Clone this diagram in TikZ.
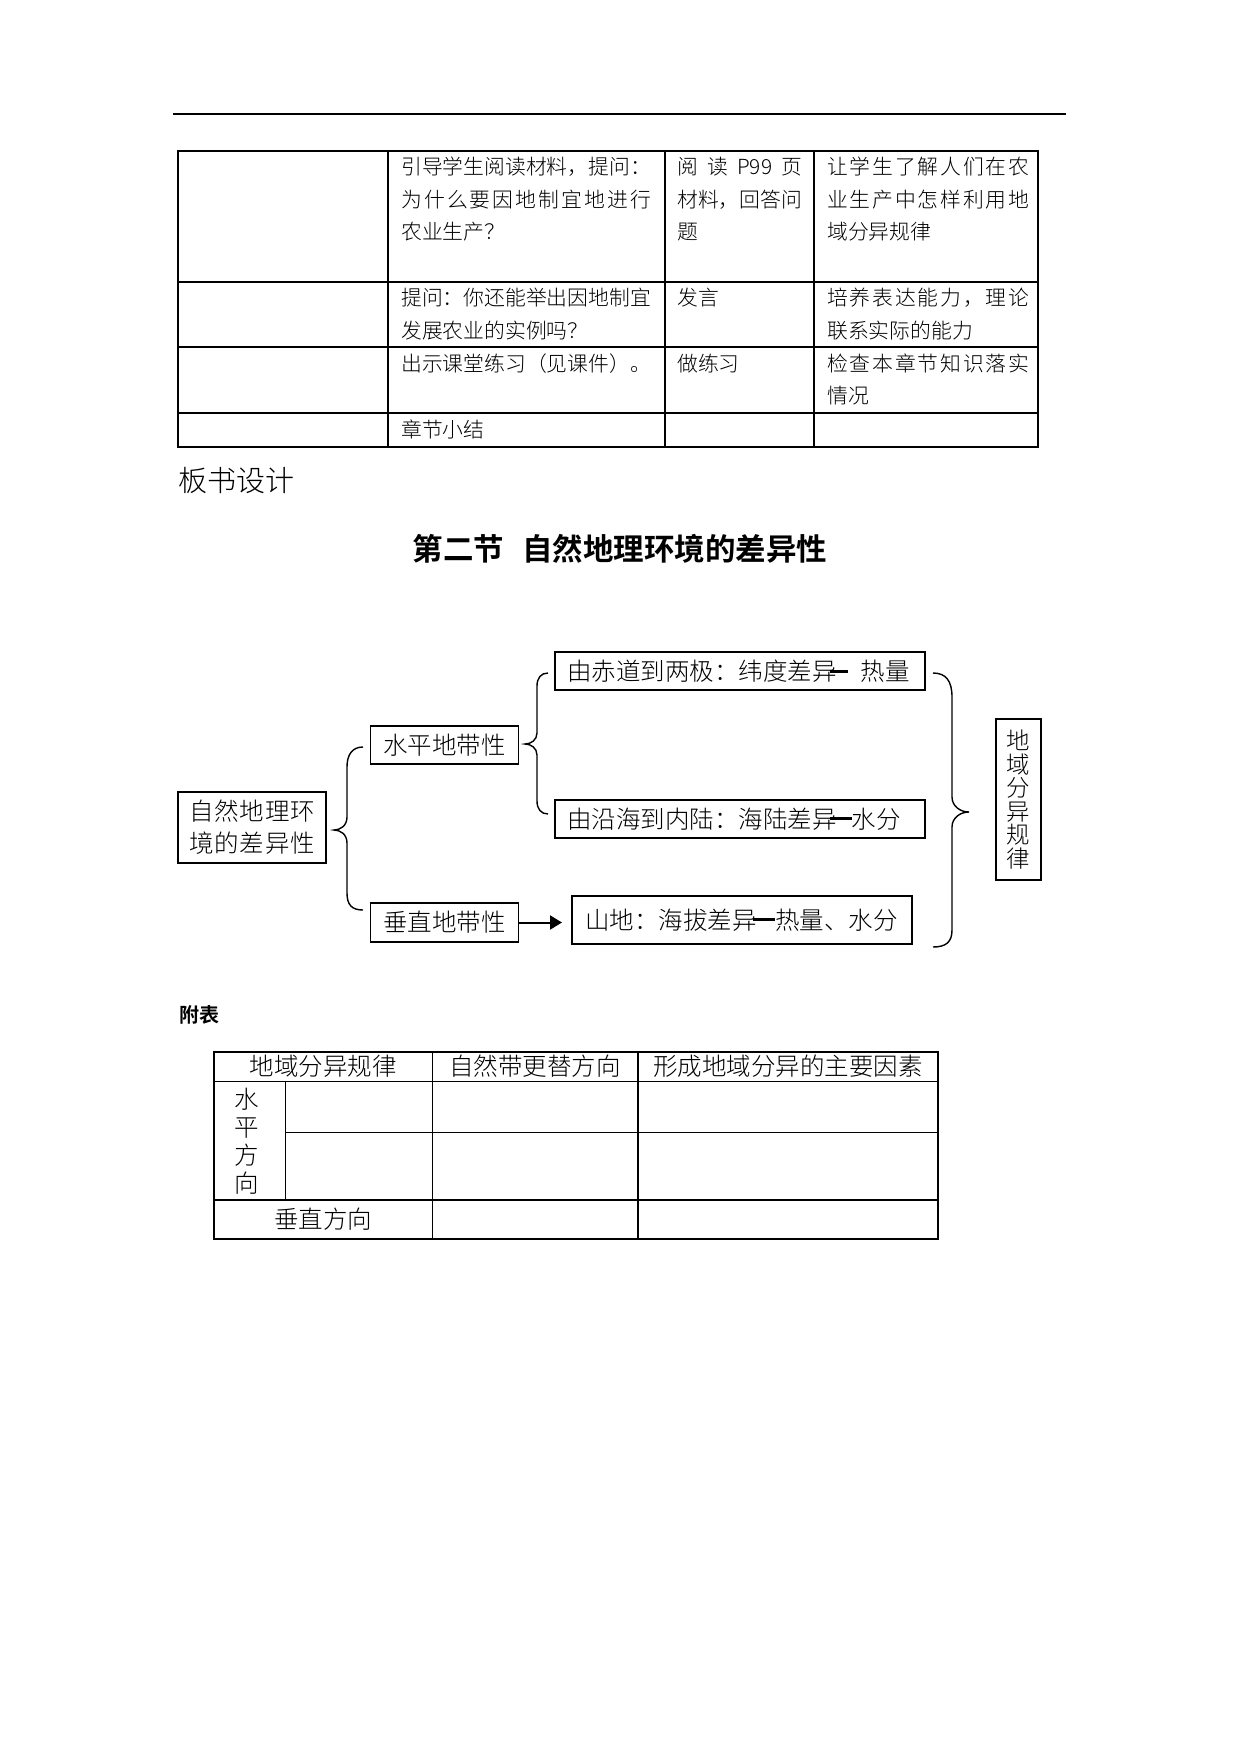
\documentclass[tikz,border=0pt]{standalone}
\usepackage{fontspec}
\setmainfont{Noto Sans CJK SC}[UprightFont={* Light}, BoldFont={* Bold}]
\usetikzlibrary{arrows.meta}
\makeatletter
\def\spr@first#1{#1\spr@d}
\def\spr@d#1{\ifx#1\@nil\else\hfil#1\expandafter\spr@d\fi}
\newcommand\spreadtxt[2]{\makebox[#1][s]{\spr@first#2\@nil}}
\makeatother
\newcommand\fsz[1]{\fontsize{#1}{#1}\selectfont}
\tikzset{
  cell/.style={anchor=west, inner sep=0pt, font={\fsz{20.8}}},
  dbox/.style={draw, line width=1.8pt, inner sep=0pt, font={\fsz{24.5}}},
  brc/.style={line width=1.4pt},
  tline/.style={line width=1.3pt},
  plain/.style={inner sep=0pt},
}
\begin{document}
\begin{tikzpicture}[x=1pt,y=-1pt]
\fill[white] (0,0) rectangle (1241,1754);
\useasboundingbox (0,0) rectangle (1241,1754);

% header rule
\draw[line width=1.3pt] (173,114) -- (1066,114);

% ---------- table 1 ----------
\draw[tline] (178,151) rectangle (1038,447);
\draw[tline] (388,151) -- (388,447);
\draw[tline] (665,151) -- (665,447);
\draw[tline] (814,151) -- (814,447);
\draw[tline] (178,282) -- (1038,282);
\draw[tline] (178,347) -- (1038,347);
\draw[tline] (178,413) -- (1038,413);

\node[cell] (r1a1) at (401,167) {引导学生阅读材料，提问：};
\node[cell] (r1a2) at (401,199.5) {\spreadtxt{250pt}{为什么要因地制宜地进行}};
\node[cell] (r1a3) at (401,232) {农业生产？};
\node[cell] (r1b1) at (677,167) {\makebox[125pt][s]{阅\hfil 读\hfil P99\hfil 页}};
\node[cell] (r1b2) at (677,199.5) {材料，回答问};
\node[cell] (r1b3) at (677,232) {题};
\node[cell] (r1c1) at (827,167) {\spreadtxt{202pt}{让学生了解人们在农}};
\node[cell] (r1c2) at (827,199.5) {\spreadtxt{202pt}{业生产中怎样利用地}};
\node[cell] (r1c3) at (827,232) {域分异规律};

\node[cell] (r2a1) at (401,298) {提问：你还能举出因地制宜};
\node[cell] (r2a2) at (401,330.5) {发展农业的实例吗？};
\node[cell] (r2b1) at (677,298) {发言};
\node[cell] (r2c1) at (827,298) {\spreadtxt{202pt}{培养表达能力，理论}};
\node[cell] (r2c2) at (827,330.5) {联系实际的能力};

\node[cell] (r3a1) at (401,363.5) {出示课堂练习（见课件）。};
\node[cell] (r3b1) at (677,363.5) {做练习};
\node[cell] (r3c1) at (827,363.5) {\spreadtxt{202pt}{检查本章节知识落实}};
\node[cell] (r3c2) at (827,396) {情况};

\node[cell] (r4a1) at (401,429.5) {章节小结};

% ---------- headings ----------
\node[plain, anchor=west, font={\fsz{29}}] (bsh) at (178,481) {板书设计};
\node[plain, font={\fsz{30.5}\bfseries}] (title) at (620,549) {第二节\hspace{18pt}自然地理环境的差异性};

% ---------- diagram ----------
\node[dbox, minimum width=148pt, minimum height=71pt, align=center,
      font={\fontsize{24.5}{32}\selectfont}] (A) at (252,827.5)
      {\spreadtxt{126pt}{自然地理环}\\\spreadtxt{126pt}{境的差异性}};
\node[dbox, minimum width=148pt, minimum height=38pt] (B) at (444.5,745) {水平地带性};
\node[dbox, minimum width=148pt, minimum height=39pt] (C) at (444.5,922.5) {垂直地带性};
\node[dbox, minimum width=370pt, minimum height=38pt] (D) at (740,671)
  {\makebox[346pt][l]{由赤道到两极：纬度差异\hspace{-6.5pt}\rule[7.8pt]{18pt}{3pt}\hspace{12.5pt}热量}};
\node[dbox, minimum width=370pt, minimum height=38pt] (E) at (740,819)
  {\makebox[346pt][l]{由沿海到内陆：海陆差异\hspace{-6.5pt}\rule[7.8pt]{21.5pt}{3pt}水分}};
\node[dbox, minimum width=340pt, minimum height=48pt] (F) at (742,920)
  {\makebox[314pt][l]{山地：海拔差异\hspace{-3.5pt}\rule[7.8pt]{22pt}{3pt}热量、水分}};
\node[dbox, minimum width=45pt, minimum height=161pt, align=center,
      font={\fontsize{23.5}{23.5}\selectfont}] (G) at (1018.5,799.5)
      {地\\域\\分\\异\\规\\律};

% brace A -> B, C
\coordinate (b1t) at (363,747);
\coordinate (b1m) at (334,830);
\coordinate (b1b) at (363,910);
\draw[brc] (b1t) .. controls (352,747) and (347,755) .. (347,767) -- (347,817)
  .. controls (347,826) and (340,830) .. (b1m)
  .. controls (340,830) and (347,834) .. (347,843) -- (347,893)
  .. controls (347,905) and (352,910) .. (b1b);

% brace B -> D, E
\coordinate (b2t) at (548,673);
\coordinate (b2m) at (525,744);
\coordinate (b2b) at (548,814);
\draw[brc] (b2t) .. controls (541,673) and (537,678) .. (537,686) -- (537,733)
  .. controls (537,740) and (531,744) .. (b2m)
  .. controls (531,744) and (537,748) .. (537,755) -- (537,801)
  .. controls (537,809) and (541,814) .. (b2b);

% brace D, E, F -> G
\coordinate (b3t) at (933,673);
\coordinate (b3m) at (969,812);
\coordinate (b3b) at (933,947);
\draw[brc] (b3t) .. controls (946,673) and (952,681) .. (952,697) -- (952,797)
  .. controls (952,806) and (960,812) .. (b3m)
  .. controls (960,812) and (952,818) .. (952,827) -- (952,930)
  .. controls (952,942) and (946,947) .. (b3b);

% arrow C -> F
\coordinate (Fin) at (562,922.5);
\draw[line width=2pt, -{Triangle[length=12pt,width=14pt]}] (C.east) -- (Fin);

% ---------- appendix table ----------
\node[plain, anchor=west, font={\fsz{20}\bfseries}] (fb) at (179,1015) {附表};

\draw[tline] (214,1052) rectangle (938,1239);
\draw[tline] (214,1081.5) -- (938,1081.5);
\draw[tline] (285.5,1132.5) -- (938,1132.5);
\draw[tline] (214,1200) -- (938,1200);
\draw[tline] (432.5,1052) -- (432.5,1239);
\draw[tline] (638,1052) -- (638,1239);
\draw[tline] (285.5,1081.5) -- (285.5,1200);

\node[plain, font={\fsz{24.5}}] (h1) at (323,1066.5) {地域分异规律};
\node[plain, font={\fsz{24.5}}] (h2) at (535,1066.5) {自然带更替方向};
\node[plain, font={\fsz{24.5}}] (h3) at (788,1066.5) {形成地域分异的主要因素};
\node[plain, align=center, font={\fontsize{24.5}{28}\selectfont}] (v1) at (247,1141) {水\\平\\方\\向};
\node[plain, font={\fsz{24.5}}] (v2) at (323,1219.5) {垂直方向};
\end{tikzpicture}
\end{document}
